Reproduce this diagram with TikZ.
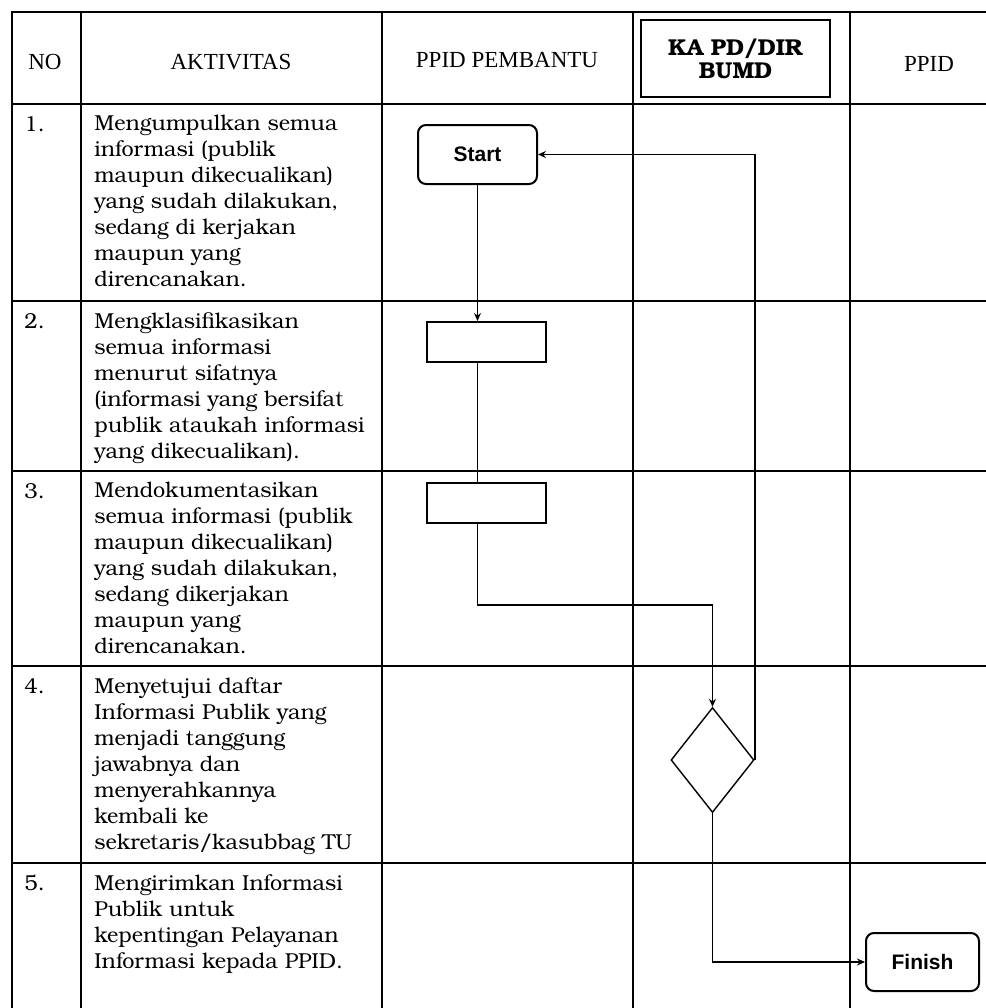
\documentclass[tikz,border=0pt]{standalone}
\usepackage{fontspec}
\setmainfont{TeX Gyre Bonum}
\newfontfamily\hdrfont{Liberation Serif}
\newfontfamily\flowfont{Liberation Sans}
\usetikzlibrary{shapes.geometric,arrows.meta}
\begin{document}
\begin{tikzpicture}[x=0.5pt,y=-0.5pt,
 grid/.style={line width=0.75pt},
 txt/.style={anchor=north west,inner sep=0pt,align=left,font=\fontsize{10.8}{13}\selectfont},
 num/.style={anchor=north west,inner sep=0pt,font=\fontsize{10.8}{13}\selectfont},
 hdr/.style={font=\hdrfont\fontsize{11.5}{13}\selectfont,inner sep=0pt},
 term/.style={draw,line width=1pt,rounded corners=4pt,inner sep=0pt,font=\flowfont\bfseries\fontsize{10.5}{13}\selectfont},
 proc/.style={draw,line width=1pt,minimum width=59.5pt,minimum height=20pt,inner sep=0pt},
 dec/.style={draw,diamond,line width=0.7pt,minimum width=41.5pt,minimum height=52.5pt,inner sep=0pt},
 flow/.style={line width=0.9pt},
 arr/.style={flow,-{Stealth[length=4pt,width=3.5pt]}}]
\useasboundingbox (0,0) rectangle (986,1008);
% table
\draw[grid] (986,12) -- (12,12) -- (12,1008);
\foreach \yy in {104,301,471,666,863} \draw[grid] (12,\yy) -- (986,\yy);
\foreach \xx in {81,382,633,850} \draw[grid] (\xx,12) -- (\xx,1008);
% header
\node[hdr] (hno) at (45,62) {NO};
\node[hdr] (hakt) at (231,62) {AKTIVITAS};
\node[hdr] (hpem) at (507,60) {PPID PEMBANTU};
\node[draw,line width=1.3pt,minimum width=94.5pt,minimum height=38.5pt,inner sep=0pt,align=center,font=\bfseries\fontsize{11.5}{11.5}\selectfont] (hka) at (735.5,58.5) {KA PD/DIR\\BUMD};
\node[hdr] (hppid) at (929,64) {PPID};
% numbers
\node[num] (n1) at (24,116) {1.};
\node[num] (n2) at (24,313) {2.};
\node[num] (n3) at (24,483) {3.};
\node[num] (n4) at (24,678) {4.};
\node[num] (n5) at (24,875) {5.};
% activities
\node[txt] (a1) at (94,115) {Mengumpulkan semua\\informasi (publik\\maupun dikecualikan)\\yang sudah dilakukan,\\sedang di kerjakan\\maupun yang\\direncanakan.};
\node[txt] (a2) at (94,312) {Mengklasifikasikan\\semua informasi\\menurut sifatnya\\(informasi yang bersifat\\publik ataukah informasi\\yang dikecualikan).};
\node[txt] (a3) at (94,482) {Mendokumentasikan\\semua informasi (publik\\maupun dikecualikan)\\yang sudah dilakukan,\\sedang dikerjakan\\maupun yang\\direncanakan.};
\node[txt] (a4) at (94,677) {Menyetujui daftar\\Informasi Publik yang\\menjadi tanggung\\jawabnya dan\\menyerahkannya\\kembali ke\\sekretaris/kasubbag TU};
\node[txt] (a5) at (94,874) {Mengirimkan Informasi\\Publik untuk\\kepentingan Pelayanan\\Informasi kepada PPID.};
% flow
\node[term,minimum width=59.5pt,minimum height=29.5pt] (start) at (477.5,154.5) {Start};
\node[proc] (b2) at (486.5,342) {};
\node[proc] (b3) at (486.5,503) {};
\node[dec] (dec) at (712.5,760) {};
\node[term,minimum width=56.5pt,minimum height=29pt] (finish) at (922.5,962) {Finish};
\draw[arr] (start.south) -- (start.south |- b2.north);
\draw[flow] (b2.south -| start.south) -- (b3.north -| start.south);
\draw[arr] (b3.south -| start.south) -- ++(0,81) -| (dec.north);
\draw[arr] (dec.east) |- (start.east);
\draw[arr] (dec.south) |- (finish.west);
\end{tikzpicture}
\end{document}
